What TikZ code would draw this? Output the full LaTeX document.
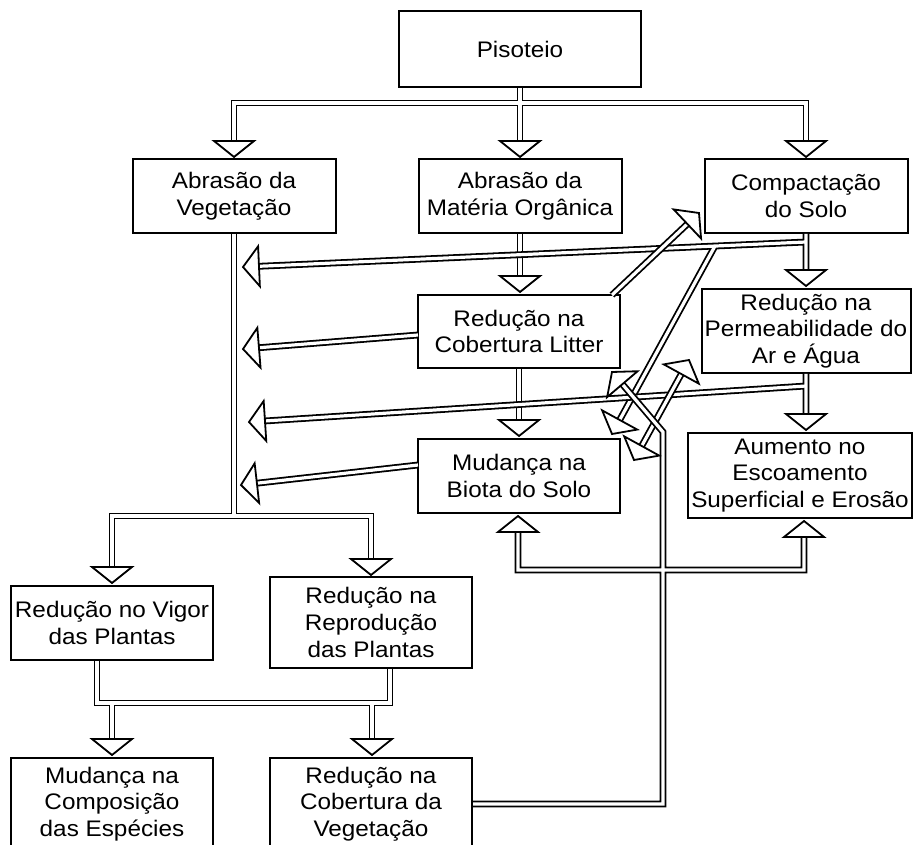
\documentclass[tikz,border=0pt]{standalone}
\usepackage{fontspec}
\setmainfont{Liberation Sans}[FakeStretch=1.08]
\usepackage{tikz}
\usetikzlibrary{calc}

\begin{document}
\begin{tikzpicture}[x=1pt, y=-1pt,
    box/.style={draw, line width=2pt, fill=white, align=center, inner sep=1pt,
        font=\fontsize{22.5}{26.7}\selectfont},
    dbl/.style={line width=1.8pt, double=white, double distance=3.2pt},
    head/.style={line width=1.8pt, fill=white}]

\useasboundingbox (0,0) rectangle (914,845);
\clip (0,0) rectangle (914,845);

% Boxes
\node[box, minimum width=242pt, minimum height=76pt] (pis) at (520,49) {Pisoteio};
\node[box, minimum width=203pt, minimum height=74pt] (abveg) at (234,196) {Abrasão da\\Vegetação};
\node[box, minimum width=203pt, minimum height=74pt] (abmat) at (520,196) {Abrasão da\\Matéria Orgânica};
\node[box, minimum width=203pt, minimum height=74pt] (comp) at (806,196) {Compactação\\do Solo};
\node[box, minimum width=202pt, minimum height=73pt] (litter) at (519,331.5) {Redução na\\Cobertura Litter};
\node[box, minimum width=209pt, minimum height=84pt] (perm) at (806,331) {Redução na\\Permeabilidade do\\Ar e Água};
\node[box, minimum width=202pt, minimum height=74pt] (biota) at (519,476) {Mudança na\\Biota do Solo};
\node[box, minimum width=224pt, minimum height=85pt] (aum) at (800,475.5) {Aumento no\\Escoamento\\Superficial e Erosão};
\node[box, minimum width=202pt, minimum height=74pt] (vigor) at (112,623) {Redução no Vigor\\das Plantas};
\node[box, minimum width=202pt, minimum height=91pt] (repro) at (371,622.5) {Redução na\\Reprodução\\das Plantas};
\node[box, minimum width=202pt, minimum height=92pt] (compos) at (112,804) {Mudança na\\Composição\\das Espécies};
\node[box, minimum width=202pt, minimum height=92pt] (vegcov) at (371,804) {Redução na\\Cobertura da\\Vegetação};

% Arrow tips (t), the point each shaft comes from (s), shaft ends (b)
\foreach \n/\tx/\ty/\sx/\sy in {
    pa/234/157/234/103, pb/520/157/520/103, pc/806/157/806/103,
    vv/112/583/112/516, vr/371/575/371/516,
    ml/520/292/520/233, lb/519/436/519/368,
    cp/806/286/806/233, ch/243/267/806/242, cb/612/434/715/246,
    pu/806/430/806/373, ph/249/422/806/386,
    lh/243/349/418/335, bh/241/485/418/465,
    lc/699/213/612/295, bp/689/360/634/460, pm/634/460/689/360,
    vl/612/372/663/432, vb/518/516/518/570, va/804/521/804/570,
    uc/112/755/112/703, ug/372/755/372/703} {
    \coordinate (t\n) at (\tx,\ty);
    \coordinate (s\n) at (\sx,\sy);
    \coordinate (b\n) at ($(t\n)!14pt!(s\n)$);
}

% Pisoteio to the three first effects
\draw[dbl] (pis.south) -- (spb) (bpa) -- (spa) -- (spc) -- (bpc) (spb) -- (bpb);

% Vegetation branch down to the plants
\draw[dbl] (abveg.south) -- (234,516) (bvv) -- (svv) -- (svr) -- (bvr);
\draw[dbl] ($(vigor.south)+(-15,0)$) -- (97,703) -- (390,703) -- ($(repro.south)+(19,0)$)
    (suc) -- (buc) (sug) -- (bug);

% Middle column
\draw[dbl] (abmat.south) -- (bml);
\draw[dbl] (litter.south) -- (blb);
\draw[dbl] (slh) -- (blh);
\draw[dbl] (sbh) -- (bbh);

% Compaction and its branches
\draw[dbl] (comp.south) -- (bcp) (sch) -- (bch) (scb) -- (bcb);
\draw[dbl] (slc) -- (blc);

% Permeability
\draw[dbl] (perm.south) -- (bpu) (sph) -- (bph);
\draw[dbl] (bpm) -- (bbp);

% Vegetation cover feedback
\draw[dbl] (vegcov.east) -| (svl) -- (bvl) (bvb) -- (svb) -- (sva) -- (bva);

% Heads
\foreach \n in {pa,pb,pc,vv,vr,ml,lb,cp,ch,cb,pu,ph,lh,bh,lc,bp,pm,vl,vb,va,uc,ug}
    \draw[head] (t\n) -- ($(t\n)!16pt!(s\n)!20pt!90:(s\n)$)
        -- ($(t\n)!16pt!(s\n)!20pt!-90:(s\n)$) -- cycle;

\end{tikzpicture}
\end{document}
